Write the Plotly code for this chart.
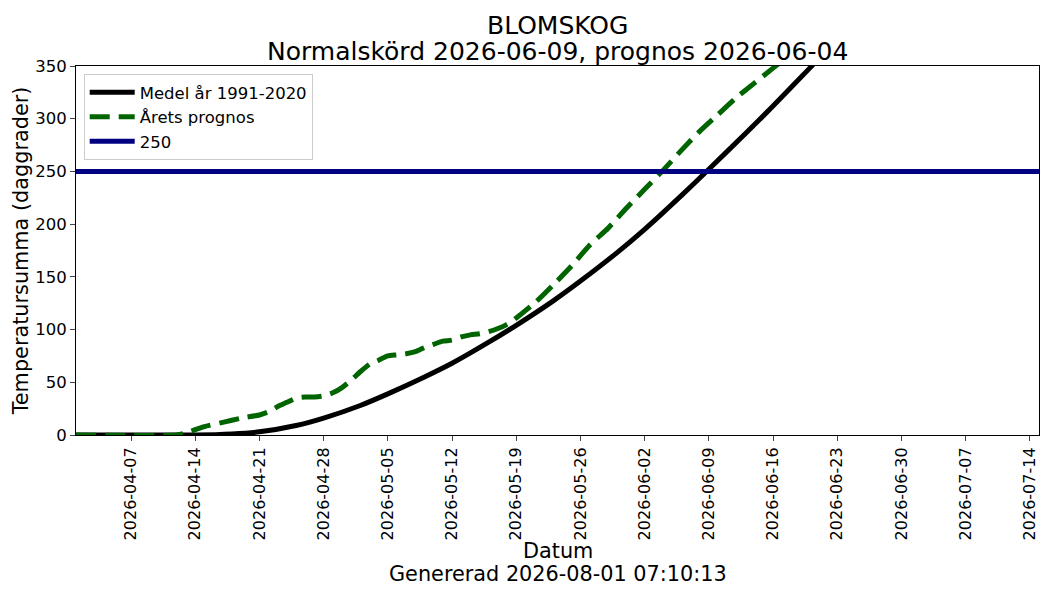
import pandas as pd
import plotly.graph_objects as go

# Medel år 1991-2020 (temperature sum, day degrees)
medel_datum = ['2026-04-01', '2026-04-10', '2026-04-14', '2026-04-18', '2026-04-21',
               '2026-04-25', '2026-04-28', '2026-05-02', '2026-05-05', '2026-05-09',
               '2026-05-12', '2026-05-16', '2026-05-19', '2026-05-23', '2026-05-26',
               '2026-05-30', '2026-06-02', '2026-06-06', '2026-06-09', '2026-06-13',
               '2026-06-16', '2026-06-20', '2026-06-23']
medel_varde = [0, 0, 0, 1, 3,
               9, 16, 28, 39, 55,
               68, 88, 104, 127, 146,
               173, 195, 227, 252, 286,
               312, 348, 376]

# Årets prognos
prognos_datum = ['2026-04-01', '2026-04-12', '2026-04-13', '2026-04-14', '2026-04-15',
                 '2026-04-17', '2026-04-19', '2026-04-21', '2026-04-22', '2026-04-23',
                 '2026-04-24', '2026-04-25', '2026-04-26', '2026-04-27', '2026-04-28',
                 '2026-04-29', '2026-04-30', '2026-05-01', '2026-05-02', '2026-05-03',
                 '2026-05-04', '2026-05-05', '2026-05-06', '2026-05-07', '2026-05-08',
                 '2026-05-09', '2026-05-10', '2026-05-11', '2026-05-12', '2026-05-13',
                 '2026-05-14', '2026-05-15', '2026-05-16', '2026-05-17', '2026-05-18',
                 '2026-05-19', '2026-05-20', '2026-05-21', '2026-05-23', '2026-05-25',
                 '2026-05-27', '2026-05-29', '2026-05-31', '2026-06-02', '2026-06-04',
                 '2026-06-06', '2026-06-08', '2026-06-10', '2026-06-12', '2026-06-14',
                 '2026-06-16', '2026-06-18']
prognos_varde = [0, 0, 2, 5, 8,
                 12, 16, 19, 22, 27,
                 31, 35, 36, 36, 37,
                 40, 45, 52, 60, 67,
                 71, 75, 76, 77, 79,
                 83, 86, 89, 90, 93,
                 95, 96, 98, 101, 105,
                 111, 118, 125, 142, 160,
                 180, 196, 215, 233, 251,
                 270, 288, 304, 320, 334,
                 348, 362]

grans = 250
grans_datum = ['2026-04-01', '2026-07-15']

tick_datum = pd.date_range('2026-04-07', '2026-07-14', freq='7D')

fig = go.Figure()
fig.add_trace(go.Scatter(x=medel_datum, y=medel_varde, mode='lines', name='Medel år 1991-2020',
                         line=dict(color='black', width=5, shape='spline', smoothing=0.6)))
fig.add_trace(go.Scatter(x=prognos_datum, y=prognos_varde, mode='lines', name='Årets prognos',
                         line=dict(color='#006400', width=5, dash='20px,9px', shape='spline', smoothing=0.6)))
fig.add_trace(go.Scatter(x=grans_datum, y=[grans, grans], mode='lines', name=str(grans),
                         line=dict(color='#000080', width=5)))

# page body has an 8px margin, so the figure is a bit smaller than the window
fig.update_layout(
    width=1042, height=592,
    margin=dict(l=68, r=11, t=58, b=165),
    plot_bgcolor='white', paper_bgcolor='white',
    font=dict(family='DejaVu Sans', color='black', size=16.5),
    legend=dict(x=0.008, y=0.978, xanchor='left', yanchor='top', bgcolor='white',
                bordercolor='#cccccc', borderwidth=1, font=dict(size=16.5), itemwidth=45),
)
fig.add_annotation(text='BLOMSKOG', xref='paper', yref='paper', x=0.5, y=1.111,
                   xanchor='center', yanchor='middle', showarrow=False, font=dict(size=25))
fig.add_annotation(text='Normalskörd 2026-06-09, prognos 2026-06-04', xref='paper', yref='paper',
                   x=0.5, y=1.039, xanchor='center', yanchor='middle', showarrow=False, font=dict(size=25))
fig.add_annotation(text='Datum', xref='paper', yref='paper',
                   x=0.5, y=-0.3144, xanchor='center', yanchor='middle', showarrow=False,
                   font=dict(size=20.8))
fig.add_annotation(text='Genererad 2026-08-01 07:10:13', xref='paper', yref='paper',
                   x=0.5, y=-0.3767, xanchor='center', yanchor='middle', showarrow=False,
                   font=dict(size=20.8))
fig.update_xaxes(range=['2026-04-01', '2026-07-15'], tickvals=tick_datum, tickformat='%Y-%m-%d',
                 tickangle=-90, ticks='outside', ticklen=5, tickfont=dict(size=16),
                 showgrid=False, zeroline=False,
                 showline=True, linecolor='black', linewidth=1, mirror=True, automargin=False)
fig.update_yaxes(range=[0, 350], dtick=50, ticks='outside', ticklen=5, showgrid=False, zeroline=False,
                 showline=True, linecolor='black', linewidth=1, mirror=True, automargin=False,
                 title=dict(text='Temperatursumma (daggrader)', font=dict(size=20.8), standoff=0))

fig.write_html("out.html")
